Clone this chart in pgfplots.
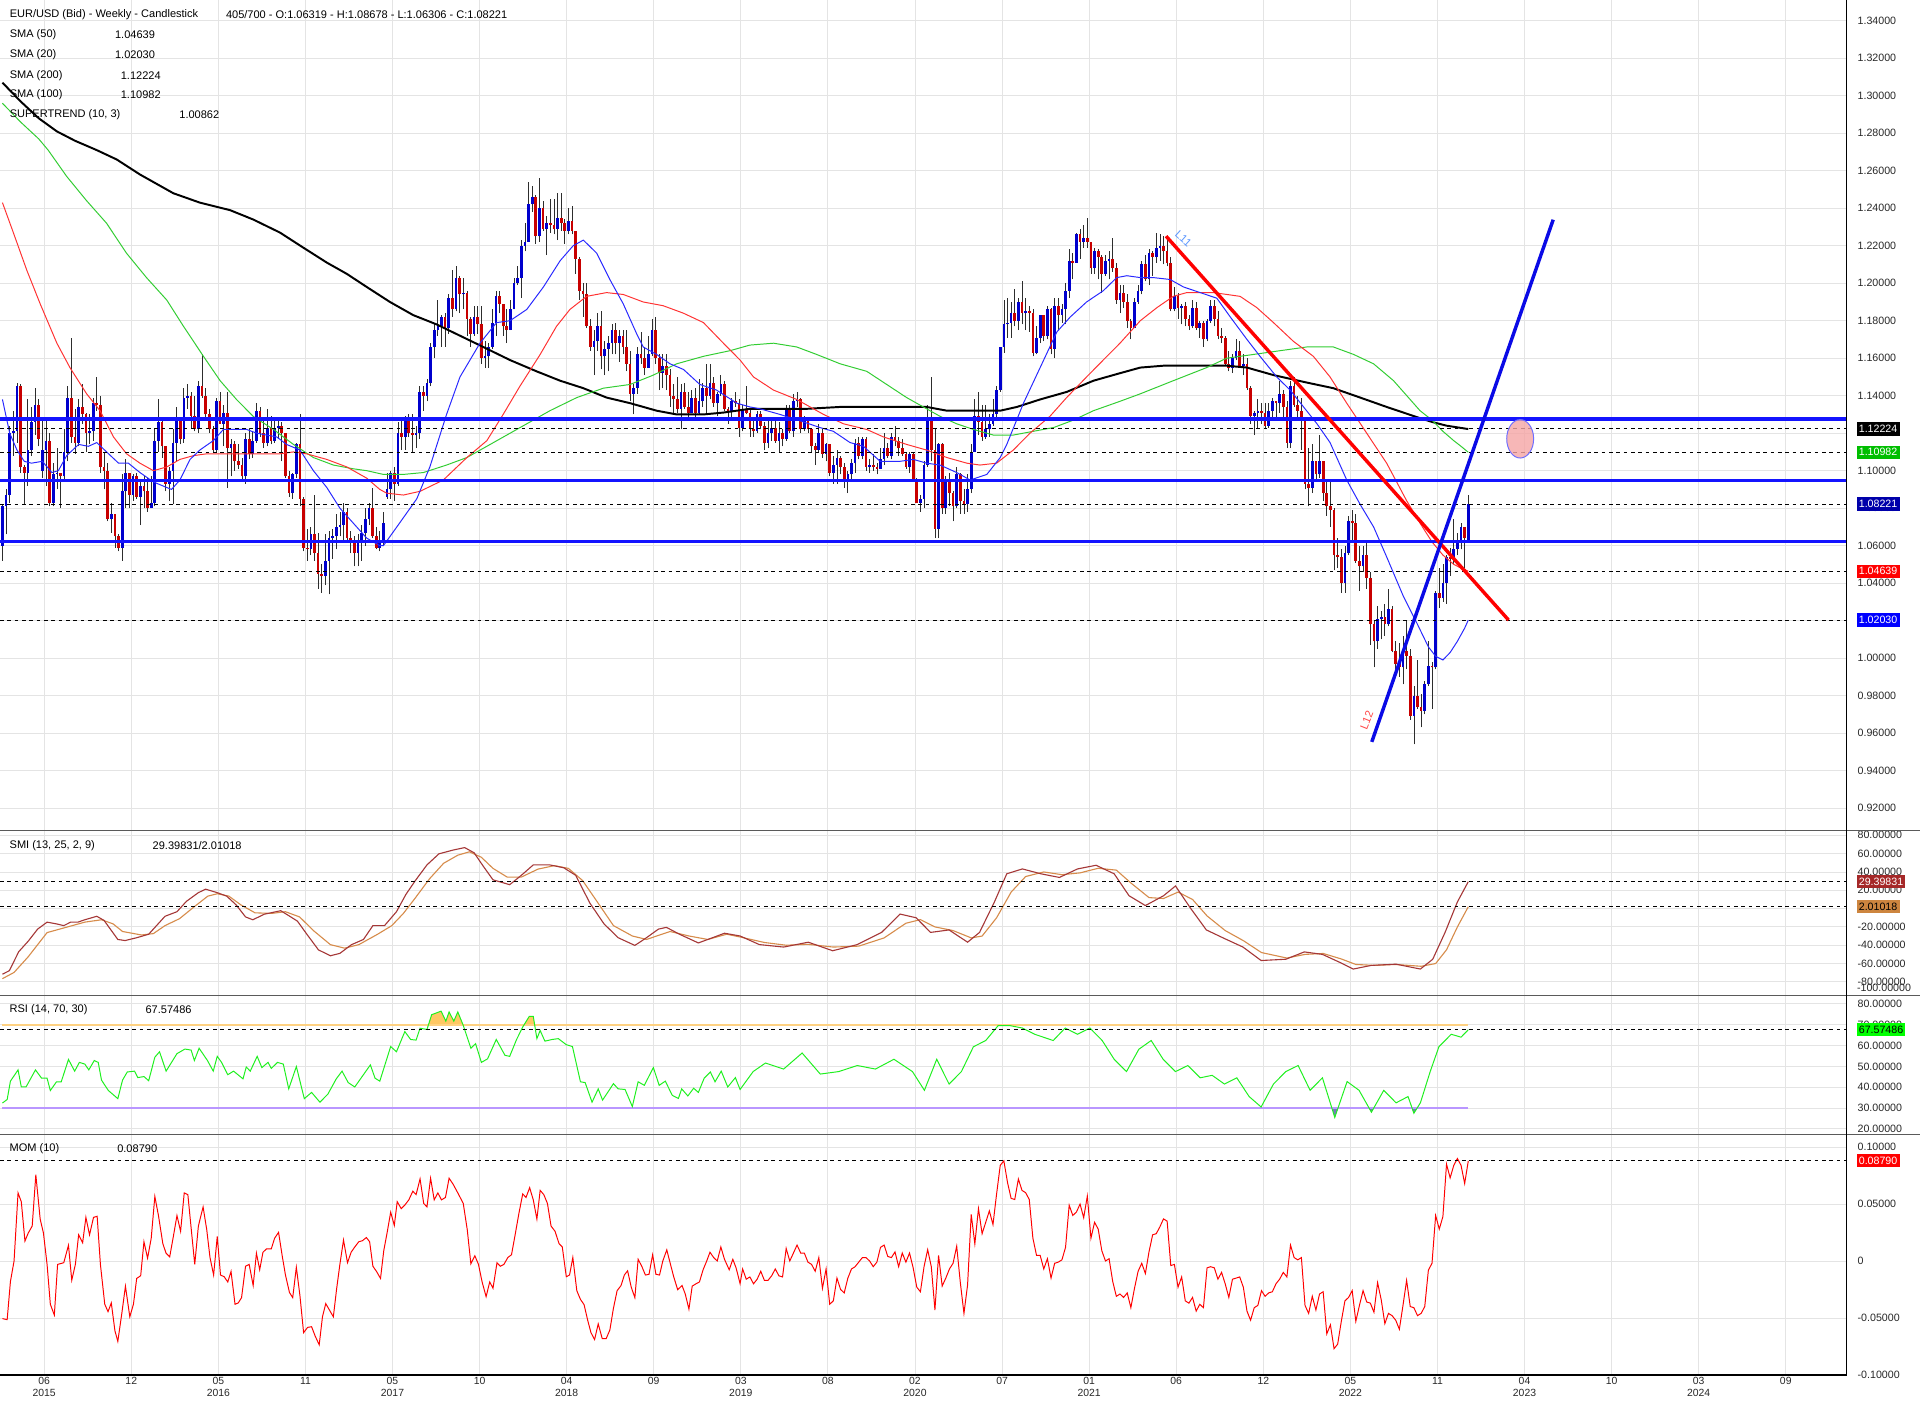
\documentclass[border=0pt]{standalone}
\usepackage{pgfplots}
\pgfplotsset{compat=1.18}
\usepackage{pgfplotstable}
\usepackage{fontspec}
\setmainfont{Liberation Sans}
\definecolor{upc}{RGB}{0,0,205}
\definecolor{dnc}{RGB}{200,0,0}
\definecolor{wickc}{RGB}{45,45,45}
\definecolor{gridc}{RGB}{228,228,228}
\definecolor{smaA}{RGB}{40,40,255}
\definecolor{smaB}{RGB}{255,50,50}
\definecolor{smaC}{RGB}{50,205,50}
\definecolor{hblue}{RGB}{20,20,255}
\definecolor{trred}{RGB}{255,0,0}
\definecolor{trblue}{RGB}{10,10,230}
\definecolor{smimain}{RGB}{165,55,55}
\definecolor{smisig}{RGB}{215,140,75}
\definecolor{rsic}{RGB}{30,240,30}
\definecolor{obc}{RGB}{255,210,130}
\definecolor{obfill}{RGB}{255,200,100}
\definecolor{osc}{RGB}{185,150,255}
\definecolor{osfill}{RGB}{120,120,190}
\definecolor{sepc}{RGB}{90,90,90}
\definecolor{lab11}{RGB}{90,150,255}
\definecolor{lab12}{RGB}{255,70,70}
\definecolor{boxgreen}{RGB}{0,190,0}
\definecolor{boxdblue}{RGB}{0,0,170}
\definecolor{boxblue}{RGB}{0,0,255}
\definecolor{boxsmi}{RGB}{165,40,40}
\definecolor{boxsig}{RGB}{205,133,63}
\definecolor{boxrsi}{RGB}{0,255,0}
\definecolor{tickc}{RGB}{40,40,40}
\definecolor{pinkc}{RGB}{245,165,165}
\definecolor{ellc}{RGB}{110,110,255}

\pgfplotstableread{
x o h l c
0 1.060 1.082 1.052 1.081
1 1.081 1.090 1.066 1.087
2 1.087 1.124 1.083 1.120
3 1.120 1.132 1.108 1.121
4 1.121 1.147 1.115 1.145
5 1.145 1.146 1.099 1.102
6 1.102 1.103 1.082 1.099
7 1.099 1.138 1.092 1.111
8 1.111 1.134 1.108 1.126
9 1.126 1.144 1.119 1.135
10 1.135 1.138 1.113 1.117
11 1.100 1.128 1.096 1.111
12 1.111 1.128 1.092 1.116
13 1.116 1.120 1.081 1.083
14 1.083 1.104 1.081 1.098
15 1.098 1.112 1.090 1.099
16 1.099 1.099 1.080 1.097
17 1.097 1.122 1.095 1.110
18 1.110 1.145 1.105 1.139
19 1.139 1.171 1.115 1.118
20 1.118 1.133 1.109 1.115
21 1.115 1.138 1.113 1.134
22 1.134 1.146 1.125 1.130
23 1.130 1.131 1.110 1.120
24 1.120 1.130 1.114 1.121
25 1.121 1.139 1.116 1.136
26 1.136 1.150 1.132 1.135
27 1.135 1.140 1.099 1.102
28 1.102 1.110 1.090 1.100
29 1.100 1.104 1.073 1.074
30 1.074 1.083 1.067 1.077
31 1.077 1.077 1.059 1.065
32 1.065 1.066 1.057 1.059
33 1.059 1.098 1.052 1.089
34 1.089 1.106 1.080 1.099
35 1.099 1.099 1.080 1.087
36 1.087 1.098 1.084 1.097
37 1.097 1.099 1.085 1.086
38 1.086 1.095 1.071 1.092
39 1.092 1.097 1.080 1.089
40 1.089 1.096 1.078 1.080
41 1.080 1.097 1.080 1.083
42 1.083 1.123 1.081 1.116
43 1.116 1.138 1.110 1.126
44 1.126 1.127 1.107 1.113
45 1.113 1.113 1.089 1.093
46 1.093 1.102 1.084 1.100
47 1.100 1.122 1.082 1.115
48 1.115 1.134 1.105 1.127
49 1.127 1.128 1.114 1.117
50 1.117 1.144 1.115 1.139
51 1.139 1.146 1.133 1.140
52 1.140 1.142 1.123 1.129
53 1.129 1.140 1.121 1.122
54 1.122 1.148 1.120 1.145
55 1.145 1.162 1.139 1.140
56 1.140 1.144 1.128 1.130
57 1.130 1.133 1.120 1.122
58 1.122 1.124 1.110 1.111
59 1.111 1.139 1.110 1.137
60 1.137 1.142 1.125 1.125
61 1.125 1.135 1.113 1.131
62 1.131 1.142 1.091 1.112
63 1.112 1.117 1.097 1.114
64 1.114 1.116 1.100 1.105
65 1.105 1.114 1.101 1.103
66 1.103 1.107 1.095 1.097
67 1.097 1.120 1.093 1.117
68 1.117 1.123 1.106 1.109
69 1.109 1.121 1.107 1.116
70 1.116 1.136 1.115 1.132
71 1.132 1.134 1.118 1.120
72 1.120 1.127 1.112 1.115
73 1.115 1.133 1.113 1.123
74 1.123 1.129 1.114 1.116
75 1.116 1.127 1.115 1.123
76 1.123 1.128 1.117 1.124
77 1.124 1.126 1.105 1.120
78 1.120 1.120 1.096 1.097
79 1.097 1.100 1.086 1.088
80 1.088 1.099 1.085 1.098
81 1.098 1.115 1.096 1.114
82 1.114 1.130 1.081 1.085
83 1.085 1.086 1.057 1.059
84 1.059 1.069 1.052 1.058
85 1.058 1.070 1.055 1.066
86 1.066 1.087 1.052 1.056
87 1.056 1.067 1.037 1.045
88 1.045 1.050 1.035 1.044
89 1.044 1.066 1.039 1.052
90 1.052 1.068 1.034 1.064
91 1.064 1.069 1.053 1.065
92 1.065 1.077 1.058 1.070
93 1.070 1.078 1.065 1.071
94 1.071 1.083 1.063 1.078
95 1.078 1.080 1.062 1.064
96 1.064 1.068 1.056 1.062
97 1.062 1.065 1.049 1.056
98 1.056 1.066 1.049 1.062
99 1.062 1.071 1.052 1.067
100 1.067 1.080 1.060 1.074
101 1.074 1.083 1.071 1.080
102 1.080 1.091 1.064 1.065
103 1.065 1.070 1.058 1.059
104 1.059 1.068 1.057 1.062
105 1.062 1.078 1.060 1.072
106 1.086 1.099 1.085 1.090
107 1.090 1.100 1.085 1.099
108 1.099 1.102 1.084 1.093
109 1.093 1.126 1.092 1.120
110 1.120 1.127 1.111 1.118
111 1.118 1.129 1.111 1.128
112 1.128 1.130 1.118 1.120
113 1.120 1.130 1.110 1.119
114 1.119 1.124 1.112 1.120
115 1.120 1.145 1.117 1.142
116 1.142 1.145 1.132 1.140
117 1.140 1.149 1.137 1.147
118 1.147 1.168 1.145 1.166
119 1.166 1.178 1.160 1.175
120 1.175 1.191 1.172 1.177
121 1.177 1.183 1.166 1.182
122 1.182 1.184 1.166 1.176
123 1.176 1.194 1.173 1.192
124 1.192 1.207 1.182 1.186
125 1.186 1.209 1.185 1.203
126 1.203 1.204 1.184 1.194
127 1.194 1.203 1.186 1.195
128 1.195 1.196 1.172 1.181
129 1.181 1.182 1.166 1.173
130 1.173 1.188 1.172 1.182
131 1.182 1.188 1.173 1.178
132 1.178 1.188 1.157 1.160
133 1.160 1.169 1.155 1.161
134 1.161 1.168 1.155 1.166
135 1.166 1.186 1.165 1.179
136 1.179 1.196 1.172 1.193
137 1.193 1.196 1.184 1.189
138 1.189 1.189 1.172 1.177
139 1.177 1.186 1.168 1.175
140 1.175 1.191 1.175 1.186
141 1.186 1.203 1.186 1.200
142 1.200 1.209 1.199 1.203
143 1.203 1.223 1.192 1.220
144 1.220 1.232 1.217 1.222
145 1.222 1.254 1.222 1.242
146 1.242 1.252 1.238 1.246
147 1.246 1.247 1.221 1.225
148 1.225 1.256 1.222 1.240
149 1.240 1.244 1.228 1.229
150 1.229 1.236 1.215 1.232
151 1.232 1.245 1.227 1.231
152 1.231 1.245 1.226 1.229
153 1.229 1.248 1.223 1.235
154 1.235 1.248 1.228 1.232
155 1.232 1.234 1.221 1.228
156 1.228 1.240 1.226 1.233
157 1.233 1.241 1.226 1.228
158 1.228 1.228 1.205 1.213
159 1.213 1.214 1.191 1.196
160 1.196 1.200 1.182 1.194
161 1.194 1.200 1.176 1.177
162 1.177 1.181 1.164 1.166
163 1.166 1.175 1.151 1.169
164 1.169 1.184 1.164 1.177
165 1.177 1.185 1.154 1.161
166 1.161 1.169 1.151 1.165
167 1.165 1.172 1.153 1.168
168 1.168 1.178 1.162 1.175
169 1.175 1.179 1.162 1.168
170 1.168 1.175 1.158 1.172
171 1.172 1.175 1.162 1.166
172 1.166 1.175 1.153 1.157
173 1.157 1.164 1.137 1.141
174 1.141 1.146 1.130 1.144
175 1.144 1.166 1.141 1.162
176 1.162 1.174 1.157 1.160
177 1.160 1.166 1.151 1.155
178 1.155 1.172 1.155 1.162
179 1.162 1.181 1.161 1.175
180 1.175 1.182 1.157 1.160
181 1.160 1.162 1.143 1.152
182 1.152 1.162 1.144 1.156
183 1.156 1.162 1.143 1.151
184 1.151 1.154 1.134 1.140
185 1.140 1.146 1.130 1.138
186 1.138 1.150 1.131 1.133
187 1.133 1.146 1.122 1.142
188 1.142 1.147 1.133 1.134
189 1.134 1.142 1.127 1.131
190 1.131 1.143 1.131 1.139
191 1.139 1.144 1.127 1.131
192 1.131 1.149 1.130 1.137
193 1.137 1.147 1.134 1.144
194 1.144 1.157 1.131 1.140
195 1.140 1.157 1.138 1.147
196 1.147 1.150 1.134 1.136
197 1.136 1.142 1.129 1.141
198 1.141 1.151 1.140 1.146
199 1.146 1.148 1.132 1.133
200 1.133 1.134 1.125 1.132
201 1.132 1.139 1.128 1.137
202 1.137 1.142 1.134 1.136
203 1.136 1.138 1.118 1.123
204 1.123 1.135 1.121 1.133
205 1.133 1.145 1.130 1.131
206 1.131 1.133 1.118 1.122
207 1.122 1.128 1.118 1.121
208 1.121 1.132 1.120 1.130
209 1.130 1.132 1.122 1.124
210 1.124 1.126 1.111 1.115
211 1.115 1.127 1.112 1.120
212 1.120 1.127 1.116 1.123
213 1.123 1.127 1.115 1.116
214 1.116 1.126 1.110 1.120
215 1.120 1.122 1.113 1.117
216 1.117 1.135 1.116 1.133
217 1.133 1.135 1.120 1.121
218 1.121 1.141 1.118 1.137
219 1.137 1.142 1.134 1.138
220 1.138 1.139 1.120 1.122
221 1.122 1.129 1.121 1.127
222 1.127 1.128 1.120 1.122
223 1.122 1.122 1.110 1.113
224 1.113 1.115 1.103 1.111
225 1.111 1.125 1.110 1.120
226 1.120 1.123 1.107 1.109
227 1.109 1.115 1.105 1.114
228 1.114 1.114 1.097 1.099
229 1.099 1.108 1.093 1.103
230 1.103 1.111 1.093 1.107
231 1.107 1.108 1.098 1.102
232 1.102 1.104 1.091 1.094
233 1.094 1.100 1.088 1.098
234 1.098 1.106 1.094 1.104
235 1.104 1.117 1.099 1.115
236 1.115 1.118 1.106 1.108
237 1.108 1.118 1.106 1.117
238 1.117 1.118 1.100 1.102
239 1.102 1.106 1.099 1.103
240 1.103 1.109 1.100 1.102
241 1.102 1.104 1.098 1.101
242 1.101 1.112 1.101 1.106
243 1.106 1.120 1.103 1.112
244 1.112 1.115 1.107 1.108
245 1.108 1.120 1.106 1.118
246 1.118 1.124 1.113 1.116
247 1.116 1.118 1.108 1.112
248 1.112 1.117 1.108 1.109
249 1.109 1.110 1.101 1.102
250 1.102 1.110 1.099 1.109
251 1.109 1.110 1.094 1.095
252 1.095 1.096 1.083 1.083
253 1.083 1.087 1.078 1.085
254 1.085 1.105 1.080 1.103
255 1.103 1.135 1.102 1.128
256 1.128 1.150 1.105 1.111
257 1.111 1.123 1.064 1.069
258 1.069 1.115 1.064 1.114
259 1.114 1.115 1.077 1.080
260 1.080 1.097 1.077 1.094
261 1.094 1.099 1.081 1.088
262 1.088 1.089 1.073 1.081
263 1.081 1.102 1.080 1.098
264 1.098 1.099 1.077 1.084
265 1.084 1.090 1.077 1.082
266 1.082 1.098 1.078 1.090
267 1.090 1.114 1.088 1.110
268 1.110 1.138 1.110 1.129
269 1.129 1.142 1.119 1.126
270 1.126 1.135 1.116 1.118
271 1.118 1.135 1.117 1.122
272 1.122 1.130 1.118 1.125
273 1.125 1.138 1.124 1.130
274 1.130 1.145 1.127 1.143
275 1.143 1.166 1.142 1.166
276 1.166 1.191 1.163 1.178
277 1.178 1.192 1.171 1.179
278 1.179 1.190 1.171 1.184
279 1.184 1.197 1.177 1.180
280 1.180 1.192 1.175 1.190
281 1.190 1.201 1.178 1.184
282 1.184 1.192 1.175 1.185
283 1.185 1.188 1.174 1.184
284 1.184 1.186 1.161 1.163
285 1.163 1.177 1.162 1.171
286 1.171 1.183 1.168 1.183
287 1.183 1.183 1.169 1.172
288 1.172 1.188 1.170 1.186
289 1.186 1.187 1.162 1.165
290 1.165 1.192 1.160 1.188
291 1.188 1.192 1.175 1.183
292 1.183 1.189 1.179 1.186
293 1.186 1.200 1.178 1.196
294 1.196 1.218 1.192 1.212
295 1.212 1.216 1.202 1.211
296 1.211 1.227 1.211 1.226
297 1.226 1.229 1.213 1.222
298 1.222 1.231 1.219 1.224
299 1.224 1.235 1.219 1.222
300 1.222 1.222 1.205 1.208
301 1.208 1.219 1.205 1.217
302 1.217 1.218 1.202 1.214
303 1.214 1.215 1.195 1.205
304 1.205 1.215 1.204 1.212
305 1.212 1.217 1.202 1.213
306 1.213 1.224 1.206 1.208
307 1.208 1.211 1.189 1.191
308 1.191 1.199 1.184 1.195
309 1.195 1.199 1.187 1.190
310 1.190 1.194 1.176 1.180
311 1.180 1.181 1.170 1.176
312 1.176 1.192 1.176 1.190
313 1.190 1.199 1.189 1.196
314 1.196 1.212 1.194 1.210
315 1.210 1.215 1.201 1.202
316 1.202 1.218 1.199 1.216
317 1.216 1.217 1.204 1.214
318 1.214 1.227 1.211 1.219
319 1.219 1.226 1.212 1.220
320 1.220 1.225 1.210 1.217
321 1.217 1.223 1.209 1.211
322 1.211 1.214 1.185 1.186
323 1.186 1.198 1.185 1.193
324 1.193 1.195 1.181 1.187
325 1.187 1.189 1.178 1.188
326 1.188 1.190 1.177 1.181
327 1.181 1.183 1.175 1.177
328 1.177 1.191 1.176 1.187
329 1.187 1.190 1.175 1.176
330 1.176 1.180 1.171 1.179
331 1.179 1.180 1.166 1.170
332 1.170 1.181 1.169 1.180
333 1.180 1.191 1.179 1.188
334 1.188 1.191 1.177 1.181
335 1.181 1.185 1.170 1.172
336 1.172 1.176 1.168 1.171
337 1.171 1.172 1.156 1.157
338 1.157 1.164 1.153 1.155
339 1.155 1.162 1.152 1.160
340 1.160 1.170 1.159 1.164
341 1.164 1.169 1.155 1.156
342 1.156 1.162 1.151 1.157
343 1.157 1.160 1.143 1.144
344 1.144 1.145 1.125 1.129
345 1.129 1.132 1.119 1.131
346 1.131 1.138 1.123 1.132
347 1.132 1.136 1.125 1.131
348 1.131 1.136 1.122 1.124
349 1.124 1.136 1.123 1.132
350 1.132 1.139 1.128 1.137
351 1.137 1.137 1.127 1.136
352 1.136 1.148 1.131 1.141
353 1.141 1.143 1.128 1.134
354 1.134 1.137 1.112 1.115
355 1.115 1.148 1.112 1.145
356 1.145 1.150 1.134 1.135
357 1.135 1.140 1.128 1.132
358 1.132 1.139 1.111 1.127
359 1.127 1.128 1.090 1.093
360 1.093 1.112 1.081 1.091
361 1.091 1.114 1.088 1.105
362 1.105 1.105 1.095 1.098
363 1.098 1.119 1.096 1.105
364 1.105 1.105 1.084 1.088
365 1.088 1.095 1.076 1.081
366 1.081 1.094 1.070 1.079
367 1.079 1.080 1.047 1.055
368 1.055 1.064 1.048 1.054
369 1.054 1.058 1.035 1.040
370 1.040 1.060 1.035 1.056
371 1.056 1.076 1.055 1.073
372 1.073 1.079 1.063 1.072
373 1.072 1.077 1.051 1.052
374 1.052 1.060 1.036 1.049
375 1.049 1.060 1.046 1.055
376 1.055 1.062 1.037 1.043
377 1.043 1.046 1.007 1.018
378 1.018 1.020 0.995 1.009
379 1.009 1.028 1.005 1.021
380 1.021 1.025 1.010 1.022
381 1.022 1.029 1.012 1.018
382 1.018 1.037 1.017 1.026
383 1.026 1.028 1.003 1.004
384 1.004 1.009 0.990 0.997
385 0.997 1.008 0.990 0.995
386 0.995 1.012 0.986 1.004
387 1.004 1.020 0.994 1.001
388 1.001 1.005 0.967 0.969
389 0.969 0.985 0.954 0.980
390 0.980 0.999 0.973 0.974
391 0.974 0.981 0.963 0.972
392 0.972 0.988 0.970 0.986
393 0.986 1.009 0.985 0.996
394 0.996 0.998 0.973 0.995
395 0.995 1.036 0.994 1.035
396 1.035 1.048 1.027 1.032
397 1.032 1.050 1.030 1.040
398 1.040 1.055 1.029 1.054
399 1.054 1.059 1.044 1.053
400 1.053 1.074 1.050 1.058
401 1.058 1.067 1.055 1.062
402 1.062 1.072 1.058 1.070
403 1.070 1.070 1.048 1.064
404 1.063 1.087 1.063 1.082
}\candles

\pgfplotsset{
  panel/.style={
    scale only axis, width=1508pt, anchor=south west,
    xmin=-0.675, xmax=508.26,
    axis line style={draw=none},
    major tick length=0pt,
    tick style={draw=none},
    grid=major, grid style={draw=gridc, line width=0.7pt},
    xtick={11.5,35.5,...,491.5},
    xticklabels={},
    yticklabel pos=right,
    yticklabel style={font=\fontsize{8.7}{10}\selectfont, text=tickc, xshift=5.5pt},
    /pgf/number format/fixed, /pgf/number format/fixed zerofill,
    /pgf/number format/precision=5, /pgf/number format/assume math mode=true,
  },
  dline/.style={black, line width=0.8pt, dash pattern=on 3pt off 3pt},
}
\tikzset{
  vbox/.style={anchor=west, inner xsep=1.8pt, inner ysep=2.3pt, font=\fontsize{8.7}{10}\selectfont},
  lt/.style={anchor=west, inner sep=0pt, font=\fontsize{9}{10}\selectfont, text=black},
}

\begin{document}
\begin{tikzpicture}
\fill[white] (0pt,0pt) rectangle (1568pt,1144pt);
\path[use as bounding box] (0pt,0pt) rectangle (1568pt,1144pt);

% ================= MAIN PRICE PANEL =================
\begin{axis}[panel, yshift=466pt, height=678pt, ymin=0.9082, ymax=1.3511,
  ytick={0.92,0.94,0.96,0.98,1.00,1.02,1.04,1.06,1.08,1.10,1.12,1.14,1.16,1.18,1.20,1.22,1.24,1.26,1.28,1.30,1.32,1.34}]
\addplot[draw=none, forget plot, error bars/.cd, y dir=plus, y explicit, error mark=none,
  error bar style={draw=wickc, line width=0.6pt}]
  table[x=x, y=l, y error expr={\thisrow{h}-\thisrow{l}}] {\candles};
\addplot[draw=none, forget plot, restrict y to domain=0:5, error bars/.cd, y dir=plus, y explicit, error mark=none,
  error bar style={draw=upc, line width=2.2pt}]
  table[x=x, y expr={\thisrow{o}+10*(\thisrow{c}<\thisrow{o})}, y error expr={\thisrow{c}-\thisrow{o}}] {\candles};
\addplot[draw=none, forget plot, restrict y to domain=0:5, error bars/.cd, y dir=plus, y explicit, error mark=none,
  error bar style={draw=dnc, line width=2.2pt}]
  table[x=x, y expr={\thisrow{c}+10*(\thisrow{c}>=\thisrow{o})}, y error expr={\thisrow{o}-\thisrow{c}}] {\candles};

\addplot[black, line width=1.6pt] coordinates {(0,1.307)(5,1.297)(10,1.288)(15,1.281)(20,1.276)(26,1.271)(31.5,1.266)(37.9,1.258)(47.1,1.248)(54.4,1.243)(62.7,1.239)(69.1,1.234)(76.5,1.227)(82.9,1.219)(89.4,1.211)(94.9,1.205)(100.4,1.198)(106.8,1.190)(113.2,1.183)(119.7,1.178)(126.1,1.172)(132.5,1.166)(139.9,1.159)(147.2,1.153)(153.7,1.148)(160.1,1.144)(166.5,1.139)(173,1.136)(180.3,1.132)(185.8,1.130)(193.2,1.130)(198.7,1.131)(206,1.133)(221.7,1.133)(230.9,1.134)(249.2,1.134)(254.7,1.134)(260.3,1.132)(275,1.132)(279.6,1.134)(286,1.138)(293.3,1.142)(300.7,1.148)(308,1.152)(313.6,1.155)(320,1.156)(337.4,1.156)(343,1.155)(350.3,1.151)(359.5,1.147)(366.8,1.144)(374.2,1.139)(381.5,1.134)(390.7,1.128)(394,1.126)(398,1.124)(404,1.1222)};
\addplot[smaC, line width=0.8pt] coordinates {(0,1.296)(5,1.286)(10,1.277)(12.6,1.271)(17.7,1.257)(23.2,1.244)(28.7,1.232)(34.2,1.216)(39.7,1.203)(45.3,1.191)(49.9,1.177)(55.4,1.161)(60,1.148)(64.5,1.138)(69.1,1.129)(74.7,1.122)(80.2,1.114)(85.7,1.107)(91.2,1.103)(96.7,1.101)(100.4,1.100)(105,1.098)(110.5,1.098)(116,1.099)(122.4,1.103)(128,1.107)(133.5,1.113)(139,1.119)(144.5,1.125)(150.9,1.132)(158.3,1.139)(165.6,1.144)(173,1.146)(179.4,1.151)(185.8,1.157)(193.2,1.161)(200.5,1.164)(206,1.167)(212.5,1.168)(218.9,1.166)(224.4,1.162)(230.9,1.157)(238.2,1.153)(243.7,1.146)(249.2,1.139)(253.8,1.134)(258.4,1.129)(263,1.125)(267.6,1.122)(273.1,1.119)(278.6,1.119)(284.1,1.121)(289.7,1.123)(295.2,1.127)(300.7,1.132)(308,1.137)(313.6,1.141)(322.7,1.148)(331.9,1.155)(337.4,1.160)(344.8,1.162)(352.1,1.164)(359.5,1.166)(366.8,1.166)(372.4,1.162)(377.9,1.157)(383.4,1.148)(390.7,1.132)(394,1.127)(397,1.121)(400,1.116)(402,1.113)(404,1.1098)};
\addplot[smaB, line width=0.8pt] coordinates {(0,1.243)(3,1.227)(6.7,1.207)(10.4,1.189)(15,1.168)(18.6,1.155)(23.2,1.141)(26.9,1.132)(30.6,1.118)(34.2,1.109)(37.9,1.104)(41.6,1.100)(45.3,1.102)(48.9,1.106)(52.6,1.108)(56.3,1.109)(63.6,1.109)(69.1,1.109)(76.5,1.109)(80.2,1.110)(83.8,1.109)(89.4,1.106)(94.9,1.102)(100.4,1.096)(104,1.090)(105.9,1.088)(110.5,1.087)(115.1,1.089)(121.5,1.095)(128,1.107)(133.5,1.116)(138,1.130)(142.6,1.145)(148.2,1.162)(152.7,1.177)(156.4,1.186)(161,1.193)(166.5,1.195)(171.1,1.194)(176.6,1.190)(182.1,1.188)(187.7,1.184)(193.2,1.179)(198.7,1.168)(203.3,1.159)(207,1.150)(212.5,1.143)(218.9,1.138)(226.3,1.130)(231.8,1.125)(238.2,1.122)(242.8,1.118)(249.2,1.114)(254.7,1.111)(260.3,1.107)(265.8,1.104)(269.4,1.103)(274,1.104)(278.6,1.111)(283.2,1.120)(288.7,1.129)(293.3,1.139)(298.8,1.150)(304.4,1.161)(308,1.168)(313.6,1.180)(318.2,1.187)(322.7,1.193)(326.4,1.195)(333.8,1.195)(341.1,1.193)(345.7,1.187)(350.3,1.179)(355.8,1.169)(361.3,1.161)(365.9,1.150)(370.5,1.136)(376,1.120)(381.5,1.104)(387,1.084)(390.7,1.072)(394,1.062)(397,1.055)(400,1.050)(402,1.048)(404,1.0464)};
\addplot[smaA, line width=0.8pt] coordinates {(0,1.138)(2,1.120)(4,1.111)(6,1.105)(8,1.104)(11,1.105)(13.6,1.099)(15.4,1.100)(17.7,1.108)(21,1.114)(23.7,1.113)(26,1.115)(28.7,1.110)(32,1.104)(34.7,1.104)(37.9,1.099)(41.6,1.094)(45.3,1.091)(46.6,1.090)(48.9,1.095)(51.7,1.106)(54.4,1.111)(58.1,1.116)(60.9,1.122)(63.6,1.122)(67.3,1.122)(70.1,1.120)(72.8,1.119)(75.6,1.118)(78.3,1.114)(82,1.111)(85.7,1.100)(89.4,1.091)(93,1.080)(96.7,1.072)(100.4,1.064)(104,1.060)(105,1.060)(108.7,1.070)(114.2,1.085)(117.8,1.102)(122.4,1.130)(126.1,1.150)(131.6,1.168)(136.2,1.179)(139.9,1.180)(144.5,1.186)(149.1,1.198)(153.7,1.212)(157.3,1.220)(160.1,1.223)(163.8,1.216)(167.4,1.202)(171.1,1.189)(174.8,1.173)(176.6,1.166)(180.3,1.162)(184,1.157)(187.7,1.154)(192.2,1.146)(196.8,1.143)(202.4,1.136)(206,1.134)(208.8,1.133)(214.3,1.130)(220.8,1.126)(225.3,1.123)(229,1.121)(233.6,1.115)(237.3,1.113)(241.9,1.105)(247.4,1.105)(251.1,1.106)(254.7,1.104)(258.4,1.103)(263,1.099)(266.7,1.095)(271.3,1.098)(275,1.107)(276.8,1.114)(281.4,1.136)(286,1.155)(290.6,1.174)(294.3,1.182)(298.8,1.190)(303.4,1.196)(307.1,1.203)(309.9,1.204)(313.6,1.203)(317.2,1.203)(321.8,1.202)(325.5,1.198)(330.1,1.195)(334.7,1.192)(338.4,1.182)(343,1.170)(346.6,1.161)(351.2,1.150)(354.9,1.143)(358.6,1.134)(362.3,1.125)(365.9,1.115)(370.5,1.095)(374.2,1.082)(377.9,1.070)(381.5,1.054)(386.1,1.033)(390,1.018)(393,1.006)(395,1.001)(397,0.999)(399,1.003)(401,1.009)(403,1.016)(404,1.0203)};

\addplot[dline] coordinates {(-0.675,1.12224)(508.26,1.12224)};
\addplot[dline] coordinates {(-0.675,1.10982)(508.26,1.10982)};
\addplot[dline] coordinates {(-0.675,1.08221)(508.26,1.08221)};
\addplot[dline] coordinates {(-0.675,1.04639)(508.26,1.04639)};
\addplot[dline] coordinates {(-0.675,1.02030)(508.26,1.02030)};
\addplot[hblue, line width=2.6pt] coordinates {(-0.675,1.1276)(508.26,1.1276)};
\addplot[hblue, line width=2.6pt] coordinates {(-0.675,1.0949)(508.26,1.0949)};
\addplot[hblue, line width=2.6pt] coordinates {(-0.675,1.0622)(508.26,1.0622)};
\addplot[trred, line width=2.8pt] coordinates {(320.7,1.2251)(415.1,1.0203)};
\addplot[trblue, line width=2.8pt] coordinates {(377.4,0.9553)(427.4,1.2339)};
\addplot[only marks, mark=*, mark size=15.7pt, mark options={xscale=0.7, fill=pinkc, fill opacity=0.8, draw=ellc, line width=0.8pt}] coordinates {(418.3,1.117)};
\node[text=lab11, rotate=-42, font=\fontsize{9}{10}\selectfont] at (axis cs:325.5,1.2239) {L11};
\node[text=lab12, rotate=68, font=\fontsize{9}{10}\selectfont] at (axis cs:376,0.9668) {L12};
\coordinate (b1) at (axis cs:508.26,1.12224);
\coordinate (b2) at (axis cs:508.26,1.10982);
\coordinate (b3) at (axis cs:508.26,1.08221);
\coordinate (b4) at (axis cs:508.26,1.04639);
\coordinate (b5) at (axis cs:508.26,1.02030);
\end{axis}

% ================= SMI PANEL =================
\begin{axis}[panel, yshift=331pt, height=135pt, ymin=-94.9, ymax=85.6,
  ytick={-80,-60,-40,-20,0,20,40,60,80}]
\addplot[smisig, line width=0.9pt] coordinates {(0,-76.5)(3.2,-69.7)(7.1,-52.6)(12.3,-26.2)(17.5,-20.5)(22.7,-14.8)(27.3,-12.2)(30.5,-16.7)(33.1,-25)(38.3,-28.8)(41.6,-27.3)(44.8,-18.6)(48.8,-11)(52.7,1.5)(56.6,13.6)(59.2,16.2)(62.4,13.6)(65.7,4.1)(69.6,-4.6)(74.1,-5.3)(78,-3.4)(81.9,-9.1)(85.8,-24.3)(90.4,-39.4)(94.3,-43.2)(98.2,-39.4)(103.4,-28)(107.3,-18.6)(110.5,-5.3)(113.8,11.7)(117.7,32.5)(121.6,49.5)(125.5,58.3)(128.7,62)(132,56)(135.2,43.9)(139.1,34.4)(143,34.4)(147.6,43.1)(152.1,46.9)(156,43.9)(159.9,30.6)(164.5,4.1)(168.4,-18.6)(173.6,-29.9)(177.5,-33.7)(184,-25)(189.2,-29.9)(194.4,-33.7)(199.6,-28)(203.3,-31)(210,-37)(216,-40)(222,-39)(229,-42)(236,-41)(243,-32)(249,-16)(253,-12)(257,-20)(262,-24)(267,-32)(270,-30)(274,-10)(278,18)(282,35)(287,40)(292,37)(297,39)(302,44)(307,42)(311,28)(316,12)(320,11)(324,18)(328,10)(332,-8)(337,-24)(342,-35)(347,-48)(354,-54)(359,-50)(364,-49)(369,-55)(373,-61)(378,-62)(384,-61)(391,-63)(395,-60)(398,-45)(401,-20)(404,2.01)};
\addplot[smimain, line width=0.9pt] coordinates {(0,-71.6)(1.9,-67.8)(4.5,-47)(7.1,-35.6)(9.7,-22.4)(12.3,-14.8)(14.9,-16.7)(16.9,-18.6)(18.8,-14.8)(20.8,-14.8)(22.7,-12.2)(26,-8.4)(28,-12.9)(31.8,-33.7)(33.8,-34.9)(37,-31.8)(40.3,-28)(42.9,-16.7)(44.8,-8.4)(48.1,-3.4)(50.7,7.9)(54,17.4)(56,21.2)(59.2,17.4)(61.8,13.6)(64.4,4.1)(67,-9.1)(69,-12.2)(72.2,-6.1)(76.7,-2.3)(78.7,-7.2)(81.3,-13.7)(83.9,-28)(87.1,-45.1)(90.4,-51.5)(93,-48.9)(96.2,-39.4)(99.5,-33.7)(102.1,-18.6)(105.3,-18.6)(108.6,-3.4)(111.2,15.5)(113.8,30.6)(117,47.7)(120.3,59.8)(124.2,63.9)(127.4,66.6)(130,60.9)(132.6,45.8)(135.2,31.4)(139.8,26.1)(143,36.3)(146.3,47.7)(150.8,47.7)(154.7,44.6)(158,36.3)(161.9,6)(165.8,-16.7)(169.7,-31.8)(174.3,-40.2)(177.5,-31.8)(180.8,-22.4)(183,-20.5)(186.6,-28)(191.8,-37.5)(195.7,-31.8)(199,-26.9)(203.3,-29.9)(208.6,-39.3)(215.3,-42)(222.1,-36.7)(228.8,-46)(235.6,-39.3)(242.3,-26)(247.4,-6)(251.8,-10)(255.8,-26)(260.9,-23.3)(266,-36.7)(269.3,-26)(273.4,7.3)(276.8,38)(281.1,43.3)(286.2,38)(291.3,34)(296.3,43.3)(301.4,47.3)(306.4,38)(310.5,14)(315,3.3)(320,14)(323.3,24.7)(327.4,0.7)(331.8,-23.3)(336.8,-32.7)(341.9,-42)(346.9,-56.7)(353.7,-55.3)(358.8,-47.3)(363.8,-50)(368.9,-59.3)(372.3,-66)(377.3,-62)(384.1,-60.7)(390.8,-66)(394.2,-55.3)(397.6,-26)(401,7.3)(404,29.4)};
\addplot[dline] coordinates {(-0.675,29.39831)(508.26,29.39831)};
\addplot[dline] coordinates {(-0.675,2.01018)(508.26,2.01018)};
\coordinate (s1) at (axis cs:508.26,29.39831);
\coordinate (s2) at (axis cs:508.26,2.01018);
\end{axis}

% ================= RSI PANEL =================
\begin{axis}[panel, yshift=217.5pt, height=113.5pt, ymin=17.3, ymax=84.0,
  ytick={20,30,40,50,60,70,80}]
\addplot[fill=obfill, draw=none] coordinates {(117.4,70)(118.3,74.8)(120.9,76.5)(122.2,71.7)(123.1,76.1)(124.4,71.7)(125.5,76.1)(126.9,70)} -- cycle;
\addplot[fill=obfill, draw=none] coordinates {(143.8,70)(145.2,74)(146.3,74)(146.7,70)} -- cycle;
\addplot[fill=osfill, draw=none] coordinates {(366.4,30)(367.2,25.5)(368.1,30)} -- cycle;
\addplot[fill=osfill, draw=none] coordinates {(376.7,30)(377.3,28)(377.9,30)} -- cycle;
\addplot[fill=osfill, draw=none] coordinates {(388.5,30)(389,27.5)(389.9,30)} -- cycle;
\addplot[obc, line width=1.6pt] coordinates {(0,70)(404,70)};
\addplot[osc, line width=1.6pt] coordinates {(0,30)(404,30)};
\addplot[rsic, line width=0.8pt] coordinates {(0,32.4)(1.3,34.1)(2.2,42.9)(4.3,48.3)(5.2,40.1)(6.5,40.1)(9.1,48.3)(10.8,44.3)(12.3,44.3)(13.2,38.4)(14.9,42.6)(16.2,42.6)(18.2,53.3)(19.9,47.7)(21.2,51.9)(22.7,51.1)(23.8,48.3)(25.3,52.8)(26.4,51.9)(27.3,43.4)(29.2,38.4)(31.8,34.5)(33.1,43.4)(34.4,47.3)(36.4,47.7)(37.3,44.6)(39,45.1)(40.3,43.1)(42,54.4)(43.3,57)(45.1,47.7)(48.1,56.1)(50.3,58.3)(52,57.8)(52.9,52.8)(54.2,58.7)(56.5,52.8)(58.1,47.7)(59.2,54.8)(60.4,51.9)(62.1,46)(63.7,47.7)(66.3,44)(67.2,49.7)(68.3,47.7)(70.2,54.8)(71.5,49.4)(73.2,51.9)(74.1,49)(75.8,51.9)(77.4,51.1)(78.9,39.2)(81,49.9)(83.2,34.5)(85.2,37.5)(87.5,32.8)(89.7,36.7)(92,44)(93.6,47.7)(95.3,42.2)(97.1,40.1)(101.4,50.7)(102.7,44.3)(104,42.9)(107,59.5)(108.6,57)(110.9,66.7)(112.5,62.9)(114,62.6)(115.1,68.3)(117,67.7)(118.3,74.8)(120.9,76.5)(122.2,71.7)(123.1,76.1)(124.4,71.7)(125.5,76.1)(127,69.7)(129.1,58.7)(130.4,60.9)(132,51.9)(133.7,53.6)(136.1,62.9)(138.5,55.3)(139.8,54.8)(141.7,62.9)(143.4,68.9)(145.2,74)(146.3,74)(147.3,63.3)(148.2,67.2)(149.5,62.1)(151.5,62.9)(153.2,63.3)(155.4,60.4)(157.1,59.5)(159.3,42.6)(160.6,42.2)(162.5,32.8)(164.2,39.2)(165.4,33.8)(168.4,41.7)(169.7,39.2)(171.6,38.9)(173.6,30.7)(175.2,42.6)(176.9,40.9)(179.4,49.4)(181,40.9)(182.7,42.9)(184.6,36.1)(186.3,34.6)(187.2,39.2)(188.9,35.8)(190.5,39.5)(191.8,37.5)(193.4,44.3)(195.1,47.3)(196.4,42.6)(198.1,47.7)(199.9,40.1)(202,44.6)(203.3,38.9)(206.9,47.5)(210.3,51.6)(215.3,48.7)(220.4,56.4)(225.4,46.3)(230.5,47.5)(235.6,50.4)(240.6,48.7)(245.7,53.4)(250.8,47.5)(254.1,38.5)(257.5,53.4)(260.9,41.5)(264.3,47.5)(267.6,59.4)(271,62.4)(274.4,69.5)(277.8,69.5)(281.1,68.4)(284.5,65.4)(289.6,62.4)(292.9,68.4)(296.3,65.4)(299.7,68.4)(303.1,62.4)(306.4,53.4)(309.8,47.5)(313.2,58.2)(316.6,62.4)(319.9,53.4)(323.3,47.5)(326.7,50.4)(330.1,44.5)(333.4,45.7)(336.8,41.5)(340.2,44.5)(343.6,35.5)(346.9,30.5)(350.3,41.5)(353.7,47.5)(357.1,50.4)(360.4,38.5)(363.8,44.5)(367.2,25.5)(370.6,42.7)(373.9,38.5)(377.3,28)(380.7,38.5)(384.1,32.5)(387.4,35.5)(389,27.5)(390.8,32.5)(393.5,47.5)(395.9,59.4)(399.3,65.4)(402,64)(404,67.57)};
\addplot[dline] coordinates {(-0.675,67.57486)(508.26,67.57486)};
\coordinate (r1) at (axis cs:508.26,67.57486);
\end{axis}

% ================= MOM PANEL =================
\begin{axis}[panel, yshift=21.1pt, height=196.4pt, ymin=-0.1001, ymax=0.1111,
  ytick={-0.1,-0.05,0,0.05,0.1},
  yticklabels={-0.10000,-0.05000,0,0.05000,0.10000},
  xticklabels={{06\\2015},12,{05\\2016},11,{05\\2017},10,{04\\2018},09,{03\\2019},08,{02\\2020},07,{01\\2021},06,12,{05\\2022},11,{04\\2023},10,{03\\2024},09},
  xticklabel style={align=center, font=\fontsize{8.5}{9.9}\selectfont, text=tickc, yshift=1.5pt}]
\addplot[red, line width=0.8pt] coordinates {(0,-0.0506)(1.3,-0.0515)(2.2,-0.018)(3.2,0)(4.3,0.0598)(5.2,0.052)(6.2,0.0175)(7.1,0.0245)(8.2,0.0307)(9.2,0.0758)(10.4,0.0368)(11.3,0.0245)(12.3,-0.003)(13.2,-0.038)(14.3,-0.0475)(15.2,-0.003)(16.9,-0.0015)(18.2,0.0138)(19.1,-0.0169)(20.1,-0.003)(21,0.023)(22.1,0.016)(23,0.0383)(24,0.023)(25.1,0.0383)(26.1,0.0393)(27,-0.003)(28.2,-0.038)(29.1,-0.0445)(30,-0.0368)(31,-0.0613)(31.8,-0.0706)(32.9,-0.046)(33.9,-0.0221)(35.1,-0.049)(36.1,-0.038)(37,-0.0153)(38.1,-0.0129)(39,0.0169)(40,0.0025)(41,0.0199)(42,0.0567)(43,0.0399)(44.2,0.0153)(45.1,0.0068)(46.1,0.0037)(47.1,0.0215)(48.1,0.0399)(49.1,0.0261)(50.1,0.0598)(51.1,0.0583)(52,0.0291)(53,-0.003)(54,0.0307)(55.3,0.0475)(56.3,0.0276)(57.2,0.0031)(58.2,-0.0123)(59.2,0.0215)(60.1,-0.0123)(61.1,-0.0138)(62.1,-0.0184)(63,-0.0092)(64.1,-0.038)(65,-0.0368)(65.9,-0.0322)(67,-0.0046)(68,-0.003)(69.1,-0.0215)(70,0.0068)(70.9,-0.0077)(71.8,0.0077)(72.8,0.0107)(74.1,0.0107)(75,0.0199)(76.1,0.0252)(77.1,0.0046)(78,-0.0123)(79.1,-0.0276)(80,-0.0322)(81,-0.0055)(82,-0.0307)(83,-0.0629)(84.1,-0.0583)(85.2,-0.0577)(86.2,-0.066)(87.3,-0.0736)(88.2,-0.049)(89.1,-0.0374)(90.1,-0.0429)(91.2,-0.049)(92.1,-0.0245)(93,-0.003)(94,0.0184)(95.1,-0.0015)(96.1,0.0077)(97.1,0.0123)(98.2,0.0169)(99.2,0.0178)(100.3,0.0206)(101.2,0.0169)(102.1,-0.0046)(103.1,-0.0092)(104.2,-0.0153)(105.1,0.0092)(106,0.0245)(107,0.0429)(108,0.0313)(108.8,0.0521)(109.9,0.046)(110.9,0.0491)(112,0.0537)(113.1,0.0613)(114,0.0583)(115.1,0.0721)(116.1,0.0506)(117,0.0475)(118,0.0727)(119,0.0537)(120,0.0598)(121,0.0537)(122.1,0.0558)(123.1,0.0727)(124.2,0.0675)(125.5,0.0598)(127,0.0506)(128.1,0.0276)(129.1,-0.0025)(130.2,0.0046)(131.2,-0.003)(132.2,-0.0184)(133.3,-0.0313)(134.3,-0.0184)(135.2,-0.0239)(136.3,-0.0015)(137.2,-0.0046)(138.2,-0.003)(139.3,0.0031)(140.3,0.0055)(141.3,0.023)(142.4,0.0429)(143.4,0.0589)(144.3,0.0558)(145.3,0.0644)(146.3,0.0537)(147.3,0.0368)(148.2,0.062)(149.2,0.0583)(150.2,0.0506)(151.2,0.0307)(152.3,0.0261)(153.4,0.0153)(154.3,0.0123)(155.4,-0.0138)(156.3,-0.0123)(157.2,0.0031)(158.3,-0.0261)(159.3,-0.0337)(160.3,-0.0383)(161.3,-0.0521)(162.2,-0.0629)(163.2,-0.069)(164.2,-0.0552)(165.3,-0.0681)(166.4,-0.0681)(167.4,-0.0607)(168.4,-0.0414)(169.4,-0.0261)(170.5,-0.0215)(171.4,-0.0123)(172.3,-0.0086)(173.3,-0.023)(174.3,-0.0322)(175.2,0.0015)(176.2,-0.0046)(177.2,-0.0123)(178.2,-0.0117)(179.2,0.0055)(180.1,-0.0117)(181.1,-0.0123)(182,0)(183.1,0.0098)(184,-0.0015)(185,-0.0138)(186.1,-0.0252)(187.3,-0.0215)(188.2,-0.0291)(189.2,-0.0423)(190.1,-0.0221)(191.2,-0.0199)(192.1,-0.0184)(193.1,-0.0077)(194.1,0)(195,0.0077)(196,0.0031)(197,0)(198,0.0123)(199,0.0015)(200.3,-0.0077)(201.3,0.0015)(202.2,-0.0061)(203.3,-0.0199)(204,-0.007)(205,-0.016)(206,-0.014)(207,-0.020)(208,-0.016)(209,-0.009)(210,-0.017)(211,-0.017)(212,-0.013)(213,-0.007)(214,-0.013)(215,-0.014)(216,0.011)(217,0.000)(218,0.007)(219,0.014)(220,0.007)(221,0.007)(222,-0.001)(223,-0.003)(224,-0.009)(225,0.003)(226,-0.024)(227,-0.007)(228,-0.038)(229,-0.035)(230,-0.015)(231,-0.025)(232,-0.028)(233,-0.015)(234,-0.007)(235,-0.005)(236,-0.001)(237,0.003)(238,0.003)(239,0.000)(240,-0.005)(241,-0.001)(242,0.012)(243,0.014)(244,0.004)(245,0.003)(246,0.008)(247,-0.005)(248,0.007)(249,-0.001)(250,0.007)(251,-0.006)(252,-0.023)(253,-0.027)(254,-0.005)(255,0.010)(256,-0.005)(257,-0.043)(258,0.005)(259,-0.022)(260,-0.015)(261,-0.007)(262,-0.002)(263,0.013)(264,-0.019)(265,-0.046)(266,-0.021)(267,0.041)(268,0.015)(269,0.046)(270,0.024)(271,0.034)(272,0.044)(273,0.032)(274,0.059)(275,0.084)(276,0.088)(277,0.069)(278,0.055)(279,0.054)(280,0.072)(281,0.062)(282,0.060)(283,0.054)(284,0.020)(285,0.005)(286,0.005)(287,-0.007)(288,0.002)(289,-0.015)(290,-0.002)(291,-0.001)(292,0.001)(293,0.012)(294,0.049)(295,0.040)(296,0.043)(297,0.050)(298,0.038)(299,0.057)(300,0.020)(301,0.034)(302,0.028)(303,0.009)(304,0.000)(305,0.002)(306,-0.018)(307,-0.031)(308,-0.029)(309,-0.032)(310,-0.028)(311,-0.041)(312,-0.024)(313,-0.009)(314,-0.002)(315,-0.011)(316,0.008)(317,0.023)(318,0.024)(319,0.030)(320,0.037)(321,0.035)(322,-0.004)(323,-0.003)(324,-0.023)(325,-0.014)(326,-0.035)(327,-0.037)(328,-0.032)(329,-0.044)(330,-0.038)(331,-0.041)(332,-0.006)(333,-0.005)(334,-0.006)(335,-0.016)(336,-0.010)(337,-0.020)(338,-0.032)(339,-0.016)(340,-0.015)(341,-0.014)(342,-0.023)(343,-0.044)(344,-0.052)(345,-0.041)(346,-0.039)(347,-0.026)(348,-0.031)(349,-0.028)(350,-0.027)(351,-0.020)(352,-0.016)(353,-0.010)(354,-0.014)(355,0.014)(356,0.003)(357,0.001)(358,0.003)(359,-0.039)(360,-0.046)(361,-0.031)(362,-0.043)(363,-0.029)(364,-0.027)(365,-0.064)(366,-0.056)(367,-0.077)(368,-0.073)(369,-0.053)(370,-0.035)(371,-0.032)(372,-0.026)(373,-0.053)(374,-0.039)(375,-0.026)(376,-0.036)(377,-0.037)(378,-0.045)(379,-0.019)(380,-0.034)(381,-0.055)(382,-0.046)(383,-0.048)(384,-0.052)(385,-0.060)(386,-0.039)(387,-0.017)(388,-0.040)(389,-0.041)(390,-0.048)(391,-0.046)(392,-0.040)(393,-0.008)(394,-0.002)(395,0.040)(396,0.028)(397,0.039)(398,0.085)(399,0.073)(400,0.084)(401,0.090)(402,0.084)(403,0.068)(404,0.0879)};
\addplot[dline] coordinates {(-0.675,0.0879)(508.26,0.0879)};
\coordinate (m1) at (axis cs:508.26,0.0879);
\end{axis}

% ================= frame lines =================
\draw[sepc, line width=1pt] (0pt,466pt) -- (1568pt,466pt);
\draw[sepc, line width=1pt] (0pt,331pt) -- (1568pt,331pt);
\draw[sepc, line width=1pt] (0pt,217.5pt) -- (1568pt,217.5pt);
\draw[black, line width=1.5pt] (0pt,21.1pt) -- (1508pt,21.1pt);
\draw[black, line width=1.2pt] (1508pt,21.1pt) -- (1508pt,1144pt);

\node[anchor=west, inner sep=0pt, font=\fontsize{8.7}{10}\selectfont, text=tickc] at (1516.4pt,337pt) {-100.00000};

\node[vbox, fill=black, text=white] at ([xshift=8pt]b1) {1.12224};
\node[vbox, fill=boxgreen, text=white] at ([xshift=8pt]b2) {1.10982};
\node[vbox, fill=boxdblue, text=white] at ([xshift=8pt]b3) {1.08221};
\node[vbox, fill=red, text=white] at ([xshift=8pt]b4) {1.04639};
\node[vbox, fill=boxblue, text=white] at ([xshift=8pt]b5) {1.02030};
\node[vbox, fill=boxsmi, text=white] at ([xshift=8pt]s1) {29.39831};
\node[vbox, fill=boxsig, text=black] at ([xshift=8pt]s2) {2.01018};
\node[vbox, fill=boxrsi, text=black] at ([xshift=8pt]r1) {67.57486};
\node[vbox, fill=red, text=white] at ([xshift=8pt]m1) {0.08790};

\node[lt] at (7.8pt,1132.3pt) {EUR/USD (Bid) - Weekly - Candlestick};
\node[lt] at (184.4pt,1132.3pt) {405/700 - O:1.06319 - H:1.08678 - L:1.06306 - C:1.08221};
\node[lt] at (7.8pt,1115.7pt) {SMA (50)};
\node[lt] at (93.8pt,1115.7pt) {1.04639};
\node[lt] at (7.8pt,1099.7pt) {SMA (20)};
\node[lt] at (93.8pt,1099.7pt) {1.02030};
\node[lt] at (7.8pt,1082.5pt) {SMA (200)};
\node[lt] at (98.5pt,1082.5pt) {1.12224};
\node[lt] at (7.8pt,1067pt) {SMA (100)};
\node[lt] at (98.5pt,1067pt) {1.10982};
\node[lt] at (7.8pt,1050.6pt) {SUPERTREND (10, 3)};
\node[lt] at (146.3pt,1050.6pt) {1.00862};
\node[lt] at (7.7pt,453.4pt) {SMI (13, 25, 2, 9)};
\node[lt] at (124.5pt,453.4pt) {29.39831/2.01018};
\node[lt] at (7.7pt,319.2pt) {RSI (14, 70, 30)};
\node[lt] at (118.7pt,319.2pt) {67.57486};
\node[lt] at (7.7pt,205.6pt) {MOM (10)};
\node[lt] at (95.6pt,205.6pt) {0.08790};
\end{tikzpicture}
\end{document}
